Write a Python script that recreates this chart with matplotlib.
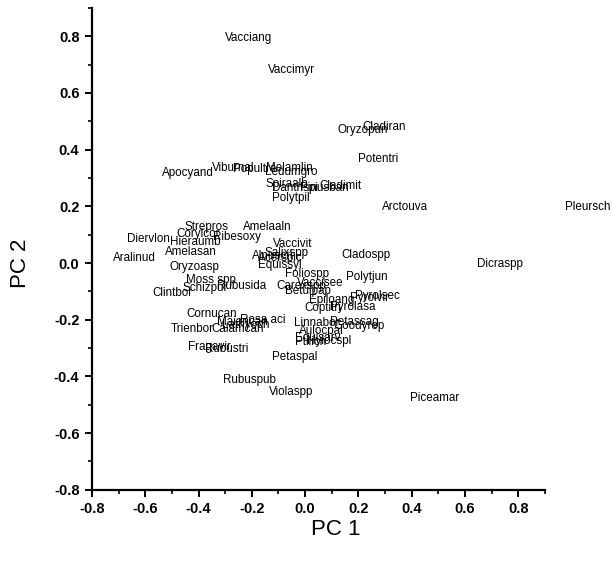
import matplotlib
matplotlib.use("Agg")
import matplotlib.pyplot as plt
from matplotlib.ticker import MultipleLocator, FormatStrFormatter

plt.rcParams["axes.unicode_minus"] = False

# Species codes and their PCA scores (PC 1, PC 2)
species = [
    "Vacciang", "Vaccimyr", "Oryzopun", "Cladiran", "Potentri", "Arctouva",
    "Pleursch", "Apocyand", "Viburnal", "Popultre", "Melamlin", "Ledumgro",
    "Spiraalb", "Cladimit", "Danthspi", "Pinusban", "Polytpil", "Amelaaln",
    "Strepros", "Corylcor", "Ribesoxy", "Diervlon", "Hieraumb", "Amelasan",
    "Aralinud", "Oryzoasp", "Moss spp", "Rubusida", "Schizpur", "Clintbor",
    "Vaccivit", "Salixspp", "Alnuscri", "Acerspic", "Equissyl", "Foliospp",
    "Carexspp", "Vaccisee", "Betulpap", "Cladospp", "Polytjun", "Pyrolvir",
    "Pyrolsec", "Epiloang", "Coptitri", "Pyrolasa", "Linnabor", "Petassag",
    "Goodyrep", "Aulocpal", "Equisarv", "Ptilicri", "Hylocspl", "Dicraspp",
    "Piceamar", "Cornucan", "Rosa aci", "Maiancan", "Lathyoch", "Calamcan",
    "Trienbor", "Fragavir", "Rubustri", "Petaspal", "Rubuspub", "Violaspp",
]

pc1 = [
    -0.302, -0.141, 0.122, 0.216, 0.197, 0.287,
    0.974, -0.538, -0.351, -0.272, -0.148, -0.152,
    -0.148, 0.054, -0.126, -0.021, -0.126, -0.235,
    -0.452, -0.482, -0.347, -0.670, -0.508, -0.527,
    -0.722, -0.508, -0.448, -0.332, -0.460, -0.572,
    -0.122, -0.152, -0.201, -0.178, -0.178, -0.077,
    -0.107, -0.032, -0.077, 0.137, 0.152, 0.167,
    0.186, 0.013, -0.002, 0.092, -0.043, 0.092,
    0.107, -0.024, -0.039, -0.039, 0.006, 0.644,
    0.392, -0.445, -0.246, -0.332, -0.313, -0.351,
    -0.505, -0.441, -0.377, -0.126, -0.310, -0.137,
]

pc2 = [
    0.795, 0.682, 0.470, 0.481, 0.367, 0.198,
    0.198, 0.318, 0.336, 0.332, 0.336, 0.322,
    0.279, 0.272, 0.265, 0.265, 0.230, 0.127,
    0.127, 0.102, 0.092, 0.085, 0.074, 0.039,
    0.018, -0.014, -0.060, -0.081, -0.088, -0.106,
    0.067, 0.035, 0.025, 0.018, -0.007, -0.039,
    -0.081, -0.071, -0.099, 0.028, -0.049, -0.124,
    -0.117, -0.131, -0.159, -0.155, -0.212, -0.208,
    -0.223, -0.240, -0.265, -0.279, -0.276, -0.004,
    -0.477, -0.180, -0.201, -0.208, -0.219, -0.233,
    -0.233, -0.297, -0.304, -0.332, -0.413, -0.456,
]

ticks = [-0.8, -0.6, -0.4, -0.2, 0.0, 0.2, 0.4, 0.6, 0.8]

fig = plt.figure(figsize=(6.13, 5.63), dpi=100)
ax = fig.add_axes([0.150, 0.130, 0.739, 0.856])

for name, x, y in zip(species, pc1, pc2):
    ax.text(x, y, name, ha="left", va="center", fontsize=8.4,
            family="Liberation Sans", color="black")

ax.set_xlim(-0.8, 0.9)
ax.set_ylim(-0.8, 0.9)

for side in ("top", "right"):
    ax.spines[side].set_visible(False)
for side in ("left", "bottom"):
    ax.spines[side].set_linewidth(1.6)

ax.set_xticks(ticks)
ax.set_yticks(ticks)
ax.xaxis.set_minor_locator(MultipleLocator(0.1))
ax.yaxis.set_minor_locator(MultipleLocator(0.1))
ax.xaxis.set_major_formatter(FormatStrFormatter("%.1f"))
ax.yaxis.set_major_formatter(FormatStrFormatter("%.1f"))

ax.tick_params(which="major", direction="out", length=5, width=1.4, pad=4)
ax.tick_params(which="minor", direction="out", length=3, width=1.2)
for lbl in ax.get_xticklabels() + ax.get_yticklabels():
    lbl.set_family("Liberation Sans")
    lbl.set_fontsize(10.5)
    lbl.set_fontweight("bold")

ax.set_xlabel("PC 1", fontsize=16, family="Liberation Sans")
ax.set_ylabel("PC 2", fontsize=16, family="Liberation Sans")
ax.xaxis.set_label_coords(0.539, -0.06)
ax.yaxis.set_label_coords(-0.135, 0.471)

fig.savefig("out.png", dpi=100)
